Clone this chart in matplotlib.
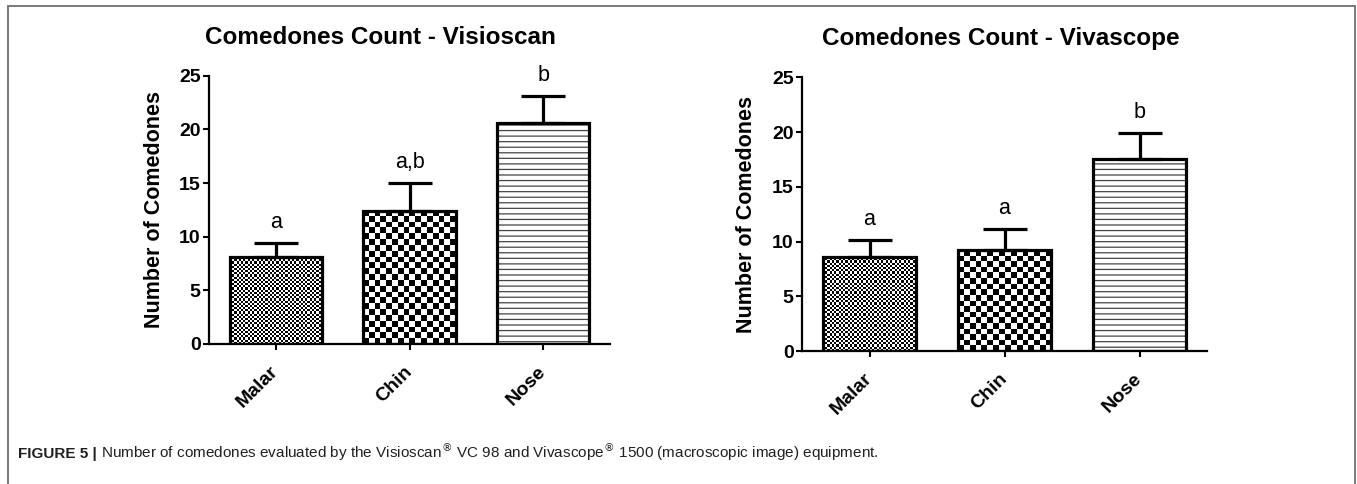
import numpy as np
import matplotlib
matplotlib.use('Agg')
import matplotlib.pyplot as plt
from matplotlib.patches import Rectangle
from matplotlib import font_manager

# data (mean and SEM, upper error only)
regions = ['Malar', 'Chin', 'Nose']
visio_mean = [8.1, 12.4, 20.6]
visio_sem = [1.3, 2.6, 2.5]
visio_letters = ['a', 'a,b', 'b']
viva_mean = [8.6, 9.2, 17.5]
viva_sem = [1.5, 1.95, 2.4]
viva_letters = ['a', 'a', 'b']
yticks = [0, 5, 10, 15, 20, 25]

plt.rcParams['font.family'] = ['Liberation Sans', 'DejaVu Sans']
plt.rcParams['hatch.linewidth'] = 0.9

W, H = 1357, 484
fig = plt.figure(figsize=(W / 100, H / 100), dpi=100)


def px(x0, y0, x1, y1):
    # pixel box (top-left origin) -> figure fraction rect
    return [x0 / W, 1 - y1 / H, (x1 - x0) / W, (y1 - y0) / H]


def checker(ax, bar, cell):
    (x0, y0), (x1, y1) = bar.get_bbox().get_points()
    p0 = ax.transData.transform((x0, y0))
    p1 = ax.transData.transform((x1, y1))
    nx = max(1, int(round((p1[0] - p0[0]) / cell)))
    ny = max(1, int(round((p1[1] - p0[1]) / cell)))
    board = np.add.outer(np.arange(ny), np.arange(nx)) % 2
    im = ax.imshow(board, cmap='gray', extent=(x0, x1, y0, y1), origin='lower',
                   interpolation='nearest', aspect='auto', zorder=1)
    im.set_clip_path(bar)


def panel(rect, title, title_x, title_ha, means, sems, letters):
    ax = fig.add_axes(px(*rect))
    x = np.arange(len(regions))
    ax.set_xlim(-0.5, len(regions) - 0.5)
    ax.set_ylim(0, 25)

    # textures
    back = ax.bar(x, means, width=0.69, color='white', edgecolor='#444444',
                  linewidth=0, zorder=0.5)
    back[2].set_hatch('---')
    checker(ax, back[0], 2.2)
    checker(ax, back[1], 5.7)
    ax.set_xlim(-0.5, len(regions) - 0.5)
    ax.set_ylim(0, 25)

    ax.errorbar(x, means, yerr=[np.zeros(len(x)), sems], fmt='none', ecolor='black',
                elinewidth=2.3, capsize=16, capthick=2.3, zorder=2)
    ax.bar(x, means, width=0.69, facecolor='none', edgecolor='black',
           linewidth=2.3, zorder=3)

    for xi, m, s, t in zip(x, means, sems, letters):
        ax.annotate(t, (xi, m + s), xytext=(0, 11), textcoords='offset points',
                    ha='center', va='baseline', fontsize=15.5)

    for side in ['top', 'right']:
        ax.spines[side].set_visible(False)
    for side in ['left', 'bottom']:
        ax.spines[side].set_linewidth(1.6)
    ax.set_yticks(yticks)
    ax.set_xticks(x)
    ax.set_xticklabels(regions, rotation=45, ha='right', va='center',
                       rotation_mode='anchor', fontweight='bold', fontsize=14)
    for lab in ax.get_yticklabels():
        lab.set_fontweight('bold')
    ax.tick_params(axis='both', direction='out', length=4, width=1.5, labelsize=14)
    ax.tick_params(axis='x', pad=14)
    ax.tick_params(axis='y', pad=2)
    ax.set_ylabel('Number of Comedones', fontsize=15.5, fontweight='bold')
    ax.yaxis.set_label_coords(-0.11, 0.5)

    fig.text(title_x / W, 1 - 38 / H, title, ha=title_ha, va='center',
             fontsize=17.5, fontweight='bold')
    return ax


panel((209, 75.7, 610, 344), 'Comedones Count - Visioscan', 205, 'left',
      visio_mean, visio_sem, visio_letters)
panel((802, 77.3, 1207, 351), 'Comedones Count - Vivascope', 1180, 'right',
      viva_mean, viva_sem, viva_letters)

# grey frame, open at the bottom
fig.add_artist(Rectangle((8 / W, -0.1), (1355 - 8) / W, 1.1 - 6 / H,
                         transform=fig.transFigure, fill=False,
                         edgecolor='#6e6e6e', linewidth=1.3))

# caption
names = {f.name for f in font_manager.fontManager.ttflist}
if 'Liberation Sans Narrow' in names:
    cap_font, cap_size = 'Liberation Sans Narrow', 12.5
else:
    cap_font, cap_size = 'Liberation Sans', 11
base_y = 1 - 458 / H
t1 = fig.text(18 / W, base_y, 'FIGURE 5 |', fontweight='bold', family=cap_font,
              size=cap_size, va='baseline', color='#231f20')
bb = t1.get_window_extent(renderer=fig.canvas.get_renderer())
fig.text((bb.x1 + 4) / W, base_y,
         'Number of comedones evaluated by the Visioscan$^{\\circledR}$ VC 98 and '
         'Vivascope$^{\\circledR}$ 1500 (macroscopic image) equipment.',
         family=cap_font, size=cap_size, va='baseline', color='#231f20')

fig.savefig('out.png', dpi=100)
